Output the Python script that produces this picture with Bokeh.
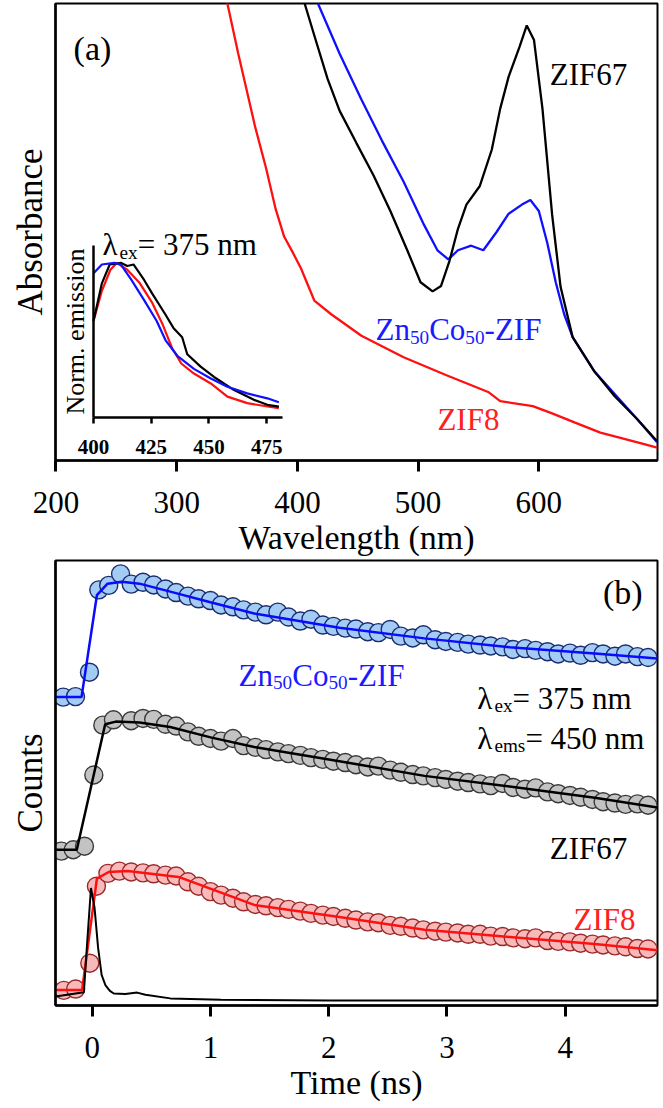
from bokeh.plotting import figure
from bokeh.models import Range1d, LinearAxis, FixedTicker, Title
from bokeh.layouts import column
from bokeh.embed import file_html
from bokeh.resources import INLINE
from bokeh.core.properties import value

FONT = "Liberation Serif"

# ---------------- Panel (a): absorbance (arb. units, 0 = axis, 1 = frame top)
wl_zif8 = [336, 342, 351, 358, 365, 374, 382, 389, 396, 403, 414, 428, 453, 488, 523, 558, 568, 595, 611, 630, 651, 681, 698]
abs_zif8 = [1.05, 1.0, 0.89, 0.81, 0.73, 0.64, 0.55, 0.49, 0.456, 0.42, 0.35, 0.32, 0.273, 0.226, 0.187, 0.150, 0.130, 0.119, 0.103, 0.083, 0.061, 0.040, 0.028]

wl_zif67 = [402, 406, 414, 425, 435, 449, 463, 477, 491, 502, 512, 519, 526, 533, 540, 551, 561, 568, 575, 584, 590, 596, 603, 611, 618, 628, 646, 663, 681, 698]
abs_zif67 = [1.05, 1.0, 0.93, 0.835, 0.765, 0.694, 0.624, 0.546, 0.46, 0.39, 0.37, 0.382, 0.437, 0.507, 0.56, 0.60, 0.68, 0.77, 0.84, 0.905, 0.952, 0.92, 0.77, 0.538, 0.38, 0.27, 0.195, 0.14, 0.092, 0.042]

wl_znco = [413, 417, 435, 453, 470, 488, 505, 516, 525, 533, 544, 554, 565, 575, 586, 593, 600, 607, 614, 621, 628, 646, 663, 681, 698]
abs_znco = [1.05, 1.0, 0.89, 0.79, 0.70, 0.61, 0.515, 0.46, 0.44, 0.46, 0.47, 0.46, 0.50, 0.54, 0.56, 0.57, 0.546, 0.476, 0.39, 0.32, 0.27, 0.195, 0.145, 0.092, 0.040]

# inset: normalized emission
em_wl_zif67 = [400, 403.6, 407, 412, 414.6, 417.3, 421.9, 425.5, 431, 434.6, 438.4, 440.6, 446.4, 452.2, 460.9, 469.5, 475.3, 480.3]
em_zif67 = [0.626, 0.868, 0.99, 1.0, 0.98, 0.99, 0.89, 0.80, 0.67, 0.58, 0.52, 0.41, 0.33, 0.263, 0.178, 0.115, 0.083, 0.071]
em_wl_zif8 = [400, 403.6, 407.3, 410, 414.6, 420, 425.5, 430, 434, 438, 443.5, 450.8, 458, 466.6, 475.3, 480.3]
em_zif8 = [0.626, 0.82, 0.956, 1.0, 0.956, 0.87, 0.74, 0.60, 0.45, 0.35, 0.285, 0.221, 0.136, 0.094, 0.072, 0.061]
em_wl_znco = [400, 403.6, 409, 411.8, 416.4, 421.9, 427.3, 431.2, 436.3, 443.5, 450.8, 458, 466.6, 475.3, 480.3]
em_znco = [0.934, 0.99, 1.0, 0.99, 0.89, 0.76, 0.626, 0.50, 0.40, 0.315, 0.253, 0.20, 0.157, 0.125, 0.10]

wl_ticks = [200, 300, 400, 500, 600]
em_ticks = [400, 425, 450, 475]

# ---------------- Panel (b): decays (arb. offset units)
t_rise_znco = [-0.245, -0.141, -0.023, 0.056, 0.14, 0.24]
c_rise_znco = [0.693, 0.694, 0.749, 0.934, 0.944, 0.970]
t_rise_zif67 = [-0.26, -0.16, -0.065, 0.014, 0.09, 0.18]
c_rise_zif67 = [0.347, 0.350, 0.358, 0.518, 0.630, 0.642]
t_rise_zif8 = [-0.24, -0.14, -0.02, 0.036, 0.133, 0.23]
c_rise_zif8 = [0.034, 0.037, 0.095, 0.268, 0.297, 0.302]

t_decay = [0.33, 0.43, 0.52, 0.62, 0.71, 0.81, 0.90, 1.00, 1.09, 1.19, 1.28, 1.38, 1.47, 1.57, 1.66, 1.76,
           1.85, 1.95, 2.04, 2.14, 2.23, 2.33, 2.42, 2.52, 2.61, 2.71, 2.80, 2.90, 2.99, 3.09, 3.18, 3.28,
           3.37, 3.47, 3.56, 3.66, 3.75, 3.85, 3.94, 4.04, 4.13, 4.23, 4.32, 4.42, 4.51, 4.61, 4.70]
c_decay_znco = [0.947, 0.951, 0.945, 0.936, 0.928, 0.920, 0.914, 0.910, 0.900, 0.896, 0.889, 0.884, 0.878, 0.884,
                0.873, 0.864, 0.868, 0.855, 0.852, 0.848, 0.846, 0.840, 0.838, 0.845, 0.830, 0.826, 0.833, 0.822,
                0.818, 0.816, 0.812, 0.810, 0.808, 0.806, 0.800, 0.802, 0.798, 0.795, 0.790, 0.792, 0.787, 0.793,
                0.790, 0.785, 0.790, 0.784, 0.782]
c_decay_zif67 = [0.640, 0.645, 0.643, 0.632, 0.628, 0.615, 0.605, 0.600, 0.594, 0.600, 0.584, 0.580, 0.575, 0.570,
                 0.566, 0.562, 0.557, 0.553, 0.549, 0.546, 0.541, 0.536, 0.538, 0.529, 0.524, 0.519, 0.516, 0.512,
                 0.508, 0.504, 0.501, 0.498, 0.494, 0.499, 0.490, 0.486, 0.489, 0.480, 0.476, 0.472, 0.468, 0.463,
                 0.458, 0.455, 0.452, 0.453, 0.450]
c_decay_zif8 = [0.300, 0.298, 0.296, 0.293, 0.291, 0.278, 0.268, 0.256, 0.248, 0.241, 0.233, 0.227, 0.224, 0.220,
                0.216, 0.212, 0.207, 0.203, 0.200, 0.196, 0.192, 0.188, 0.186, 0.180, 0.178, 0.174, 0.170, 0.167,
                0.165, 0.163, 0.160, 0.160, 0.156, 0.155, 0.152, 0.150, 0.152, 0.146, 0.144, 0.143, 0.140, 0.138,
                0.136, 0.134, 0.132, 0.128, 0.127]

fit_t_znco = [-0.31, -0.09, 0.04, 0.13, 0.25, 0.40, 0.66, 1.00, 1.37, 2.09, 2.81, 3.53, 4.25, 4.78]
fit_znco = [0.693, 0.693, 0.922, 0.948, 0.952, 0.948, 0.930, 0.906, 0.881, 0.849, 0.825, 0.805, 0.791, 0.780]
fit_t_zif67 = [-0.31, -0.13, 0.11, 0.20, 0.40, 0.66, 1.01, 1.37, 2.09, 2.81, 3.53, 4.25, 4.78]
fit_zif67 = [0.350, 0.350, 0.632, 0.638, 0.636, 0.626, 0.602, 0.581, 0.549, 0.516, 0.492, 0.467, 0.445]
fit_t_zif8 = [-0.31, -0.085, 0.04, 0.14, 0.30, 0.73, 1.37, 2.09, 2.81, 3.53, 4.25, 4.78]
fit_zif8 = [0.035, 0.035, 0.285, 0.300, 0.302, 0.289, 0.226, 0.199, 0.170, 0.154, 0.138, 0.124]

irf_t = [-0.31, -0.07, -0.04, -0.01, 0.02, 0.05, 0.08, 0.113, 0.15, 0.183, 0.28, 0.38, 0.45, 0.66, 1.09, 2.0, 4.78]
irf = [0.020, 0.030, 0.150, 0.264, 0.220, 0.130, 0.069, 0.045, 0.033, 0.027, 0.026, 0.029, 0.024, 0.016, 0.013, 0.011, 0.011]

t_ticks = [0, 1, 2, 3, 4]

CHAR_W = {'Z': .611, 'n': .5, 'C': .667, 'o': .5, '-': .333, 'I': .333, 'F': .556, 'λ': .55,
          'e': .444, 'x': .5, 'm': .778, 's': .389, '=': .564, ' ': .25}


def rich(p, x, y, parts, size, color):
    off = 0.0
    for txt, sub in parts:
        fs = size * 0.62 if sub else size
        p.text(x=[x], y=[y], text=[txt], x_offset=off, y_offset=(size * 0.24 if sub else 0),
               text_font=value(FONT), text_font_size=f"{fs:.1f}px", text_color=color,
               text_align="left", text_baseline="alphabetic")
        off += sum(CHAR_W.get(c, .5) for c in txt) * fs


def label(p, x, y, txt, size, color, align="left", baseline="alphabetic"):
    p.text(x=[x], y=[y], text=[txt], text_font=value(FONT), text_font_size=f"{size}px",
           text_color=color, text_align=align, text_baseline=baseline)


def style_axes(p, xticks, xlabel, ylabel, yoffset):
    p.xgrid.visible = False
    p.ygrid.visible = False
    p.outline_line_color = "black"
    p.outline_line_width = 2
    p.xaxis.ticker = FixedTicker(ticks=xticks)
    p.xaxis.minor_tick_line_color = None
    p.xaxis.major_tick_in = 0
    p.xaxis.major_tick_out = 11
    p.xaxis.major_tick_line_width = 3
    p.xaxis.axis_line_width = 2.5
    p.xaxis.major_label_text_font = FONT
    p.xaxis.major_label_text_font_size = "31px"
    p.xaxis.major_label_text_color = "black"
    p.xaxis.major_label_standoff = 20
    p.xaxis.axis_label = xlabel
    p.xaxis.axis_label_text_font = FONT
    p.xaxis.axis_label_text_color = "black"
    p.xaxis.axis_label_text_font_style = "normal"
    p.xaxis.axis_label_text_font_size = "34px"
    p.xaxis.axis_label_standoff = 3
    p.yaxis.ticker = FixedTicker(ticks=[])
    p.yaxis.minor_tick_line_color = None
    p.yaxis.major_tick_out = 0
    p.yaxis.major_tick_in = 0
    p.yaxis.axis_line_width = 2.5
    # y-axis title as a side Title in the left border
    p.add_layout(Title(text=ylabel, align="center", offset=yoffset, standoff=12,
                       text_font=FONT, text_font_size="35px", text_font_style="normal",
                       text_color="black"), "left")


# ---------------- figure (a)
pa = figure(width=662, height=558, x_range=Range1d(199.6, 698.3), y_range=Range1d(0, 1),
            output_backend="svg", toolbar_location=None,
            min_border_left=55, min_border_right=5, min_border_top=3, min_border_bottom=97)
style_axes(pa, wl_ticks, "Wavelength (nm)", "Absorbance", -5)

pa.line(wl_zif8, abs_zif8, line_color="#ff1010", line_width=2.3)
pa.line(wl_znco, abs_znco, line_color="#1010ff", line_width=2.3)
pa.line(wl_zif67, abs_zif67, line_color="black", line_width=2.3)

pa.extra_x_ranges = {"ix": Range1d(383.5, 644.4)}
pa.extra_y_ranges = {"iy": Range1d(-0.277, 2.677)}
pa.line(em_wl_zif8, em_zif8, line_color="#ff1010", line_width=2.2, x_range_name="ix", y_range_name="iy")
pa.line(em_wl_zif67, em_zif67, line_color="black", line_width=2.2, x_range_name="ix", y_range_name="iy")
pa.line(em_wl_znco, em_znco, line_color="#1010ff", line_width=2.2, x_range_name="ix", y_range_name="iy")

ax_ix = LinearAxis(x_range_name="ix", y_range_name="iy", fixed_location=0, bounds=(400, 482),
                   ticker=FixedTicker(ticks=em_ticks))
ax_ix.minor_tick_line_color = None
ax_ix.major_tick_in = 0
ax_ix.major_tick_out = 6
ax_ix.major_tick_line_width = 2.5
ax_ix.axis_line_width = 2.5
ax_ix.major_label_text_font = FONT
ax_ix.major_label_text_font_style = "bold"
ax_ix.major_label_text_font_size = "21px"
ax_ix.major_label_text_color = "black"
ax_ix.major_label_standoff = 16
pa.add_layout(ax_ix, "below")

ax_iy = LinearAxis(x_range_name="ix", y_range_name="iy", fixed_location=400, bounds=(0, 1.11),
                   ticker=FixedTicker(ticks=[]))
ax_iy.minor_tick_line_color = None
ax_iy.major_tick_in = 0
ax_iy.major_tick_out = 0
ax_iy.axis_line_width = 2.5
ax_iy.axis_label = "Norm. emission"
ax_iy.axis_label_text_font = FONT
ax_iy.axis_label_text_color = "black"
ax_iy.axis_label_text_font_style = "normal"
ax_iy.axis_label_text_font_size = "26px"
ax_iy.axis_label_standoff = 4
pa.add_layout(ax_iy, "left")

label(pa, 230.2, 0.902, "(a)", 34, "black", align="center", baseline="middle")
label(pa, 609, 0.845, "ZIF67", 31, "black")
label(pa, 516, 0.09, "ZIF8", 31, "#ff2020")
rich(pa, 464.7, 0.286, [("Zn", False), ("50", True), ("Co", False), ("50", True), ("-ZIF", False)], 31, "#1a1aff")
rich(pa, 238.5, 0.472, [("λ", False), ("ex", True), ("= 375 nm", False)], 31, "black")

# ---------------- figure (b)
pb = figure(width=662, height=549, x_range=Range1d(-0.31, 4.78), y_range=Range1d(0, 1),
            output_backend="svg", toolbar_location=None,
            min_border_left=55, min_border_right=5, min_border_top=2, min_border_bottom=102)
style_axes(pb, t_ticks, "Time (ns)", "Counts", 14)

series = [
    (t_rise_znco, c_rise_znco, c_decay_znco, fit_t_znco, fit_znco, "#a3ccf5", "#1c2c70", "#0a0aff"),
    (t_rise_zif67, c_rise_zif67, c_decay_zif67, fit_t_zif67, fit_zif67, "#c3c3c3", "#3a3a3a", "black"),
    (t_rise_zif8, c_rise_zif8, c_decay_zif8, fit_t_zif8, fit_zif8, "#f7b9b9", "#9a2a2a", "#ff1010"),
]
for tr, cr, cd, ft, fv, fill, edge, lc in series:
    pb.scatter(tr + t_decay, cr + cd, size=18, fill_color=fill, line_color=edge, line_width=1.4)
    pb.line(ft, fv, line_color=lc, line_width=2.5)
pb.line(irf_t, irf, line_color="black", line_width=2)

label(pb, 4.487, 0.928, "(b)", 34, "black", align="center", baseline="middle")
rich(pb, 1.238, 0.742, [("Zn", False), ("50", True), ("Co", False), ("50", True), ("-ZIF", False)], 31, "#1a1aff")
rich(pb, 3.257, 0.690, [("λ", False), ("ex", True), ("= 375 nm", False)], 31, "black")
rich(pb, 3.257, 0.600, [("λ", False), ("ems", True), ("= 450 nm", False)], 31, "black")
label(pb, 3.869, 0.353, "ZIF67", 31, "black")
label(pb, 4.07, 0.193, "ZIF8", 31, "#ff2020")

layout = column(pa, pb)
open("out.html", "w").write(file_html(layout, INLINE))
